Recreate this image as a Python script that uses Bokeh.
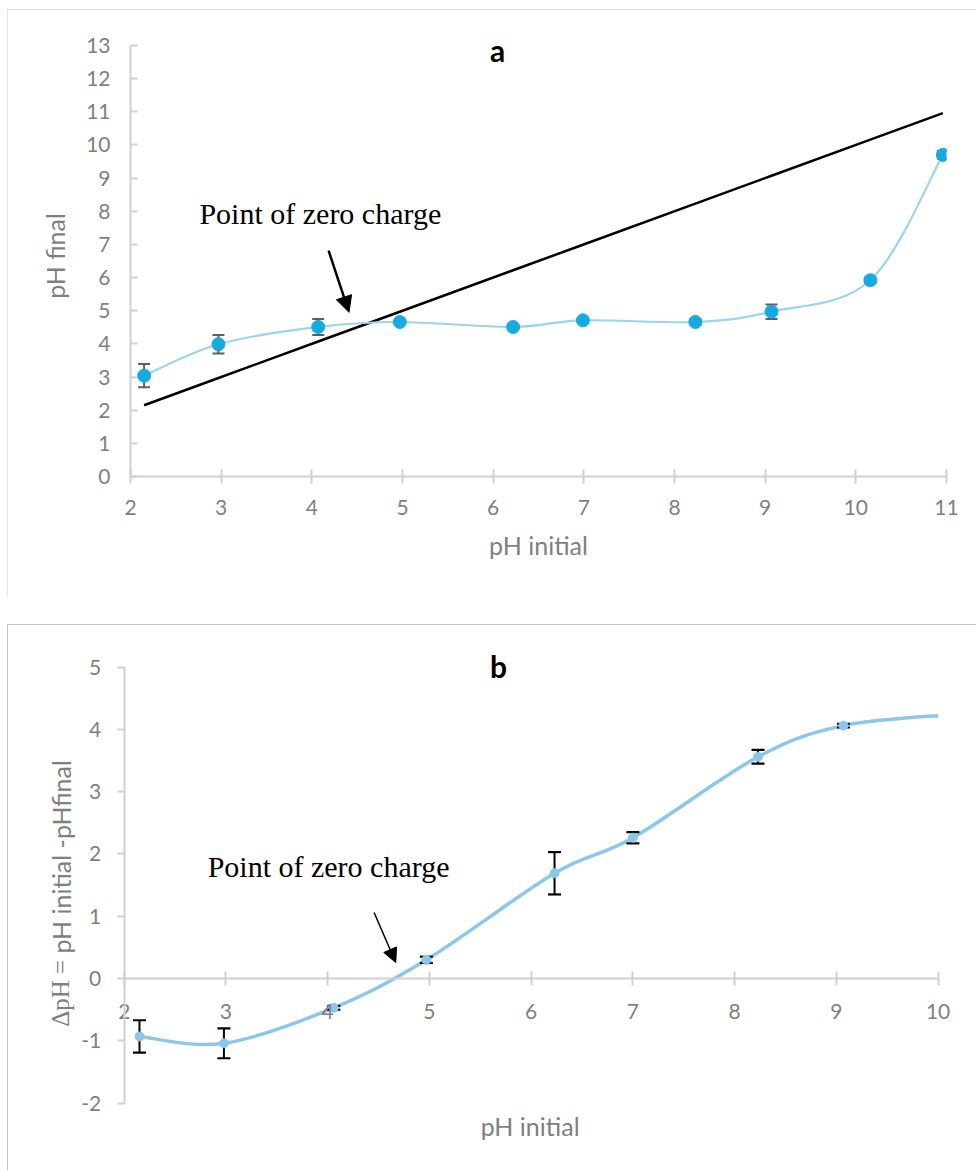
import math
from bokeh.plotting import figure
from bokeh.layouts import column
from bokeh.models import Arrow, NormalHead, FixedTicker, Range1d
from bokeh.core.properties import value
from bokeh.embed import file_html
from bokeh.resources import INLINE

# ---------------- data ----------------
# panel a
ph_initial = [2.15, 2.97, 4.07, 4.97, 6.22, 6.99, 8.23, 9.07, 10.16, 10.96]
ph_final = [3.04, 3.99, 4.51, 4.66, 4.51, 4.71, 4.66, 4.97, 5.92, 9.70]
ph_final_err = [0.35, 0.28, 0.24, 0.05, 0.02, 0.02, 0.08, 0.22, 0.08, 0.12]
ref_line_y = [2.15, 2.97, 4.07, 4.97, 6.22, 6.99, 8.23, 9.07, 10.16, 10.96]  # pH final = pH initial

# panel b
delta_x = [2.15, 2.98, 4.06, 4.97, 6.23, 7.00, 8.23, 9.07, 10.16]
delta_ph = [-0.93, -1.04, -0.47, 0.30, 1.69, 2.26, 3.56, 4.06, 4.24]
delta_err = [0.26, 0.24, 0.03, 0.05, 0.34, 0.09, 0.11, 0.03, 0.08]

x_ticks_a = [2, 3, 4, 5, 6, 7, 8, 9, 10, 11]
y_ticks_a = [0, 1, 2, 3, 4, 5, 6, 7, 8, 9, 10, 11, 12, 13]
x_ticks_b = [2, 3, 4, 5, 6, 7, 8, 9, 10]
y_ticks_b = [-2, -1, 0, 1, 2, 3, 4, 5]
x_axis_max_b = 10

annotation_text = "Point of zero charge"

SANS = "Lato"
SERIF = "Liberation Serif"
TICK_COLOR = "#7f7f7f"
AXIS_COLOR = "#d0d0d0"


def _split(p0, c0, c1, p1, t):
    """de Casteljau: return first part of cubic Bezier up to parameter t."""
    lerp = lambda a, b: (a[0] + (b[0] - a[0]) * t, a[1] + (b[1] - a[1]) * t)
    a, b, c = lerp(p0, c0), lerp(c0, c1), lerp(c1, p1)
    d, e = lerp(a, b), lerp(b, c)
    f = lerp(d, e)
    return p0, a, d, f


def smooth_segments(xs, ys, x_clip=None):
    """Bezier control points (Catmull-Rom style, like a spreadsheet's smoothed line)."""
    n = len(xs)
    out = dict(x0=[], y0=[], x1=[], y1=[], cx0=[], cy0=[], cx1=[], cy1=[])
    for i in range(n - 1):
        xp, yp = (xs[i - 1], ys[i - 1]) if i > 0 else (xs[i], ys[i])
        xn, yn = (xs[i + 2], ys[i + 2]) if i + 2 < n else (xs[i + 1], ys[i + 1])
        p0 = (xs[i], ys[i])
        p1 = (xs[i + 1], ys[i + 1])
        c0 = (xs[i] + (xs[i + 1] - xp) / 6.0, ys[i] + (ys[i + 1] - yp) / 6.0)
        c1 = (xs[i + 1] - (xn - xs[i]) / 6.0, ys[i + 1] - (yn - ys[i]) / 6.0)
        if x_clip is not None and p0[0] >= x_clip:
            break
        if x_clip is not None and p1[0] > x_clip:
            lo, hi = 0.0, 1.0
            for _ in range(60):
                mid = (lo + hi) / 2
                x_mid = _split(p0, c0, c1, p1, mid)[3][0]
                if x_mid < x_clip:
                    lo = mid
                else:
                    hi = mid
            p0, c0, c1, p1 = _split(p0, c0, c1, p1, lo)
        out["x0"].append(p0[0]); out["y0"].append(p0[1])
        out["x1"].append(p1[0]); out["y1"].append(p1[1])
        out["cx0"].append(c0[0]); out["cy0"].append(c0[1])
        out["cx1"].append(c1[0]); out["cy1"].append(c1[1])
    return out


def style_axes(p):
    for ax in list(p.xaxis) + list(p.yaxis):
        ax.axis_line_color = AXIS_COLOR
        ax.axis_line_width = 2
        ax.major_tick_line_color = AXIS_COLOR
        ax.major_tick_line_width = 2
        ax.minor_tick_line_color = None
        ax.major_label_text_font = SANS
        ax.major_label_text_font_size = "21px"
        ax.major_label_text_color = TICK_COLOR
        ax.axis_label_text_font = SANS
        ax.axis_label_text_font_size = "25px"
        ax.axis_label_text_font_style = "normal"
        ax.axis_label_text_color = TICK_COLOR
    p.grid.visible = False
    p.outline_line_color = None
    p.background_fill_color = "white"
    p.border_fill_color = "white"


# ---------------- panel a ----------------
pa = figure(width=969, height=588, output_backend="svg", toolbar_location=None,
            x_range=Range1d(2, 11), y_range=Range1d(0, 13.3), frame_align=False,
            min_border_left=123, min_border_right=30, min_border_top=26, min_border_bottom=121)
style_axes(pa)
pa.xaxis.ticker = FixedTicker(ticks=x_ticks_a)
pa.yaxis.ticker = FixedTicker(ticks=y_ticks_a)
pa.xaxis.bounds = (2, 11)
pa.yaxis.bounds = (0, 13)
pa.xaxis.major_tick_in = 7
pa.xaxis.major_tick_out = 7
pa.yaxis.major_tick_in = 7
pa.yaxis.major_tick_out = 0
pa.xaxis.major_label_standoff = 16
pa.yaxis.major_label_standoff = 20
pa.xaxis.axis_label = "pH initial"
pa.yaxis.axis_label = "pH final"
pa.xaxis.axis_label_standoff = 12
pa.yaxis.axis_label_standoff = 13
pa.styles = {"outline": "1px solid #dcdcdc", "outline-offset": "-1px"}

pa.line(ph_initial, ref_line_y, line_color="black", line_width=2.5)
pa.bezier(line_color="#9bd3f0", line_width=2.2, **smooth_segments(ph_initial, ph_final))
lo_a = [v - e for v, e in zip(ph_final, ph_final_err)]
hi_a = [v + e for v, e in zip(ph_final, ph_final_err)]
pa.segment(ph_initial, lo_a, ph_initial, hi_a, line_color="#5f5f5f", line_width=2)
pa.scatter(ph_initial, lo_a, marker="dash", size=12, line_color="#5f5f5f", line_width=2)
pa.scatter(ph_initial, hi_a, marker="dash", size=12, line_color="#5f5f5f", line_width=2)
pa.scatter(ph_initial, ph_final, size=13, fill_color="#16abe0", line_color="#16abe0")

pa.text(x=[6.05], y=[12.85], text=["a"], text_font=value(SANS), text_font_style="bold",
        text_font_size="30px", text_color="black", text_align="center", text_baseline="alphabetic")
pa.text(x=[2.76], y=[7.93], text=[annotation_text], text_font=value(SERIF),
        text_font_size="30px", text_color="black", text_align="left", text_baseline="alphabetic")
pa.add_layout(Arrow(end=NormalHead(size=16, fill_color="black", line_color="black"),
                    x_start=4.185, y_start=6.81, x_end=4.41, y_end=4.95,
                    line_color="black", line_width=2.5))

# ---------------- panel b ----------------
pb = figure(width=969, height=546, output_backend="svg", toolbar_location=None,
            x_range=Range1d(1.0, 10.25), y_range=Range1d(-2.6, 5.25), frame_align=False,
            min_border_left=15, min_border_right=13, min_border_top=27, min_border_bottom=30)
style_axes(pb)
pb.xaxis.ticker = FixedTicker(ticks=x_ticks_b)
pb.yaxis.ticker = FixedTicker(ticks=y_ticks_b)
pb.yaxis.major_label_overrides = {-1: "-1", -2: "-2"}
pb.xaxis.fixed_location = 0
pb.yaxis.fixed_location = 2
pb.xaxis.bounds = (2, x_axis_max_b)
pb.yaxis.bounds = (-2, 5)
pb.xaxis.major_tick_in = 7
pb.xaxis.major_tick_out = 7
pb.yaxis.major_tick_in = 0
pb.yaxis.major_tick_out = 7
pb.xaxis.major_label_standoff = 18
pb.yaxis.major_label_standoff = 16
pb.styles = {"outline": "1px solid #b3b3b3", "outline-offset": "-1px"}

pb.bezier(line_color="#8cc6ea", line_width=3.5,
          **smooth_segments(delta_x, delta_ph, x_clip=x_axis_max_b))
vis = [i for i, xv in enumerate(delta_x) if xv <= x_axis_max_b]
bx = [delta_x[i] for i in vis]
by = [delta_ph[i] for i in vis]
lo_b = [delta_ph[i] - delta_err[i] for i in vis]
hi_b = [delta_ph[i] + delta_err[i] for i in vis]
pb.segment(bx, lo_b, bx, hi_b, line_color="black", line_width=2)
pb.scatter(bx, lo_b, marker="dash", size=13, line_color="black", line_width=2.2)
pb.scatter(bx, hi_b, marker="dash", size=13, line_color="black", line_width=2.2)
pb.scatter(bx, by, size=9, fill_color="#8cc6ea", line_color="#8cc6ea")

pb.text(x=[5.68], y=[5.02], text=["b"], text_font=value(SANS), text_font_style="bold",
        text_font_size="30px", text_color="black", text_align="center", text_baseline="alphabetic")
pb.text(x=[2.82], y=[1.80], text=[annotation_text], text_font=value(SERIF),
        text_font_size="30px", text_color="black", text_align="left", text_baseline="alphabetic")
pb.text(x=[5.99], y=[-2.36], text=["pH initial"], text_font=value(SANS),
        text_font_size="25px", text_color=TICK_COLOR, text_align="center", text_baseline="middle")
pb.add_layout(Arrow(end=NormalHead(size=14, fill_color="black", line_color="black"),
                    x_start=4.456, y_start=1.06, x_end=4.669, y_end=0.257,
                    line_color="black", line_width=1.5))
pb.text(x=[1.378], y=[0.30], text=["ΔpH ="], angle=math.pi / 2,
        text_font=value(SERIF), text_font_size="25px", text_color=TICK_COLOR,
        text_align="right", text_baseline="middle")
pb.text(x=[1.378], y=[0.40], text=["pH initial -pHfinal"], angle=math.pi / 2,
        text_font=value(SANS), text_font_size="25px", text_color=TICK_COLOR,
        text_align="left", text_baseline="middle")

layout = column(pa, pb, spacing=27, margin=(9, 0, 0, 7))
open("out.html", "w").write(file_html(layout, INLINE))
